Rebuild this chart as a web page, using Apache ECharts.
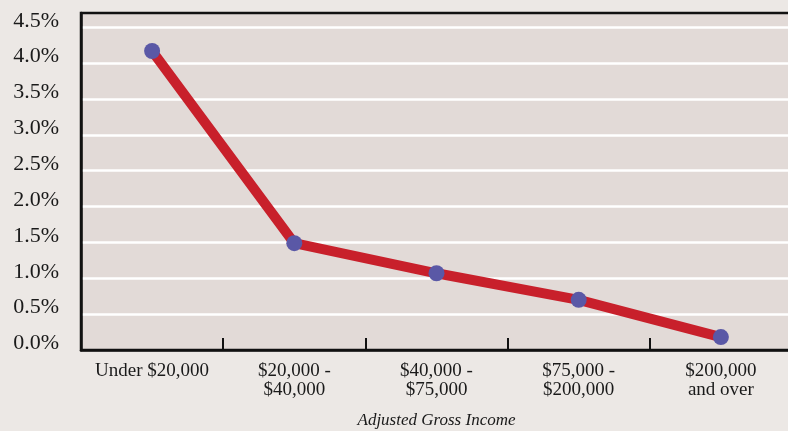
<!DOCTYPE html>
<html>
<head>
<meta charset="utf-8">
<script src="https://cdn.jsdelivr.net/npm/echarts@6/dist/echarts.min.js"></script>
<style>
  html, body { margin: 0; padding: 0; background: #ece8e5; }
  #chart { width: 788px; height: 431px; }
</style>
</head>
<body>
<div id="chart"></div>
<script>
// Income brackets (adjusted gross income)
const categories = [
  'Under $20,000',
  '$20,000 -\n$40,000',
  '$40,000 -\n$75,000',
  '$75,000 -\n$200,000',
  '$200,000\nand over'
];
// Rate in percent for each bracket
const rates = [4.17, 1.49, 1.07, 0.70, 0.18];
// Y axis scale (percent)
const yMin = 0;
const yMax = 4.7;
const yStep = 0.5;
const xTitle = 'Adjusted Gross Income';

const serif = '"Liberation Serif", "DejaVu Serif", "Times New Roman", serif';
const chart = echarts.init(document.getElementById('chart'), null, { renderer: 'canvas' });

chart.setOption({
  backgroundColor: '#ece8e5',
  animation: false,
  grid: {
    left: 81,
    right: -4,
    top: 13,
    bottom: 81,
    containLabel: false,
    outerBoundsMode: 'none',
    show: true,
    backgroundColor: '#e2dad7',
    borderColor: '#111',
    borderWidth: 2.5
  },
  xAxis: {
    type: 'category',
    data: categories,
    boundaryGap: true,
    name: xTitle,
    nameLocation: 'middle',
    nameGap: 62,
    nameTextStyle: {
      fontFamily: serif,
      fontStyle: 'italic',
      fontSize: 17,
      color: '#1a1a1a'
    },
    axisLine: { lineStyle: { color: '#111', width: 2.5 } },
    axisTick: {
      show: true,
      inside: true,
      length: 12,
      alignWithLabel: false,
      lineStyle: { color: '#111', width: 2 }
    },
    axisLabel: {
      fontFamily: serif,
      fontSize: 19,
      lineHeight: 19,
      color: '#1a1a1a',
      margin: 12,
      interval: 0
    },
    splitLine: { show: false }
  },
  yAxis: {
    type: 'value',
    min: yMin,
    max: yMax,
    interval: yStep,
    axisLine: { show: true, lineStyle: { color: '#111', width: 2.5 } },
    axisTick: { show: false },
    axisLabel: {
      fontFamily: serif,
      fontSize: 22,
      color: '#1a1a1a',
      margin: 22,
      verticalAlign: 'bottom',
      lineHeight: 13,
      showMaxLabel: false,
      formatter: v => v.toFixed(1) + '%'
    },
    splitLine: {
      show: true,
      showMinLine: false,
      showMaxLine: false,
      lineStyle: { color: '#ffffff', width: 2.5 }
    }
  },
  series: [{
    type: 'line',
    data: rates,
    symbol: 'circle',
    symbolSize: 16,
    lineStyle: { color: '#c8202b', width: 10, cap: 'round', join: 'round' },
    itemStyle: { color: '#5a58a6' },
    z: 3
  }]
});
</script>
</body>
</html>
